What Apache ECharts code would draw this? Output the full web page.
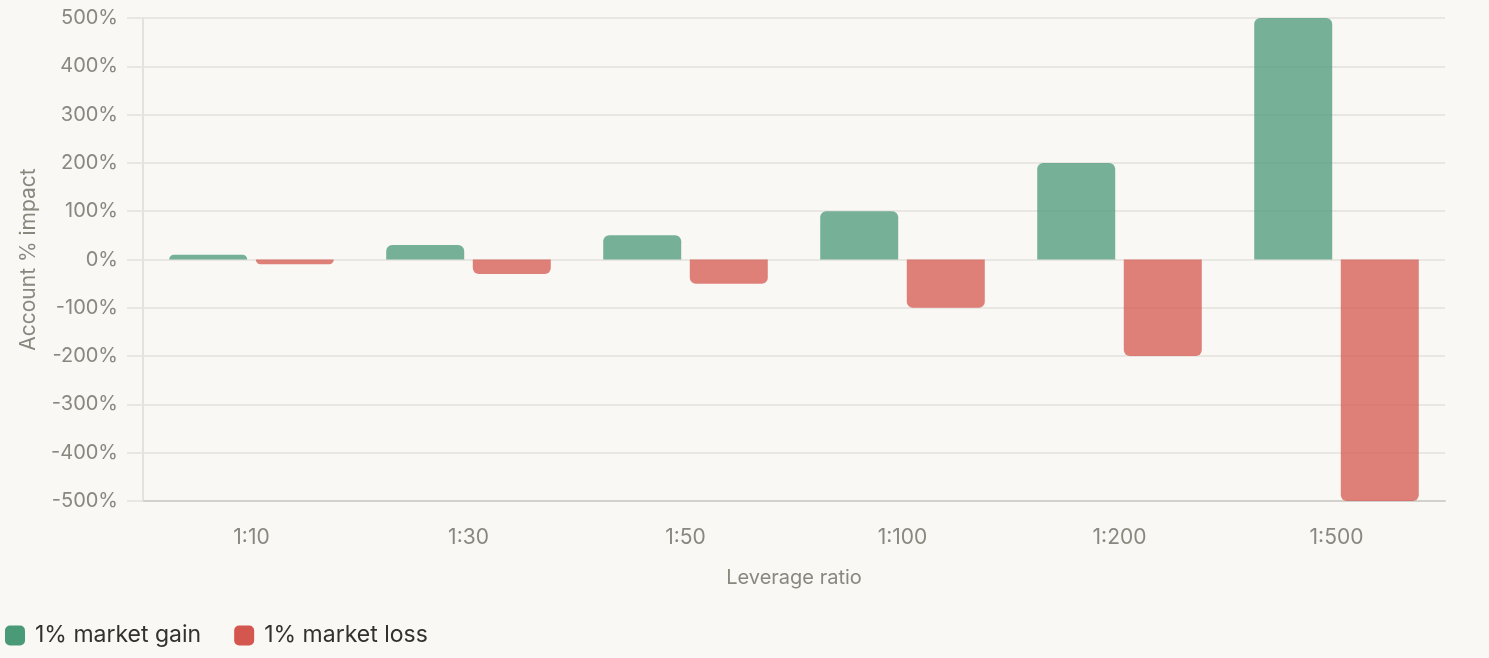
<!DOCTYPE html>
<html>
<head>
    <meta charset="UTF-8">
    <title>Leverage impact</title>
    <script src="https://cdn.jsdelivr.net/npm/echarts@6/dist/echarts.min.js"></script>
    <style>
        html, body { margin: 0; padding: 0; background: #f9f8f4; }
    </style>
</head>
<body>
    <div id="chart" style="width:1489px; height:658px;"></div>
    <script>
        var categories = ['1:10', '1:30', '1:50', '1:100', '1:200', '1:500'];
        var gainValues = [10, 30, 50, 100, 200, 500];
        var lossValues = [-10, -30, -50, -100, -200, -500];
        var seriesNames = ['1% market gain', '1% market loss'];

        var chart = echarts.init(document.getElementById('chart'), null, {renderer: 'canvas'});
        var font = 'Inter, "Noto Sans", sans-serif';

        chart.setOption({
            backgroundColor: '#f9f8f4',
            animation: false,
            grid: {left: 143, right: 44, top: 18, bottom: 157},
            legend: {
                data: seriesNames,
                left: 5,
                top: 624,
                padding: 0,
                icon: 'roundRect',
                itemWidth: 20,
                itemHeight: 20,
                itemGap: 33,
                itemStyle: {opacity: 1},
                textStyle: {color: '#33312d', fontSize: 23, fontFamily: font, padding: [0, 0, 0, 5]}
            },
            xAxis: {
                type: 'category',
                data: categories,
                name: 'Leverage ratio',
                nameLocation: 'middle',
                nameGap: 67,
                nameTextStyle: {color: '#8a877f', fontSize: 20, fontFamily: font},
                axisLine: {onZero: false, lineStyle: {color: '#d3d1cb', width: 2}},
                axisTick: {show: false},
                axisLabel: {color: '#8a877f', fontSize: 21, fontFamily: font, margin: 26}
            },
            yAxis: {
                type: 'value',
                min: -500,
                max: 500,
                interval: 100,
                name: 'Account % impact',
                nameLocation: 'middle',
                nameGap: 104,
                nameTextStyle: {color: '#8a877f', fontSize: 21, fontFamily: font},
                axisLine: {show: true, lineStyle: {color: '#e4e2dd', width: 2}},
                axisTick: {show: true, length: 16, lineStyle: {color: '#e9e7e2', width: 2}},
                splitLine: {lineStyle: {color: '#e9e7e2', width: 2}},
                axisLabel: {
                    color: '#8a877f', fontSize: 20, fontFamily: font, margin: 25,
                    formatter: function (v) { return v + '%'; }
                }
            },
            series: [
                {
                    name: seriesNames[0],
                    type: 'bar',
                    data: gainValues,
                    barWidth: 78,
                    barGap: '11%',
                    itemStyle: {color: '#4a9a78', opacity: 0.75, borderRadius: [6, 6, 0, 0]}
                },
                {
                    name: seriesNames[1],
                    type: 'bar',
                    data: lossValues,
                    barWidth: 78,
                    itemStyle: {color: '#d4574f', opacity: 0.75, borderRadius: [0, 0, 6, 6]}
                }
            ]
        });
    </script>
</body>
</html>
